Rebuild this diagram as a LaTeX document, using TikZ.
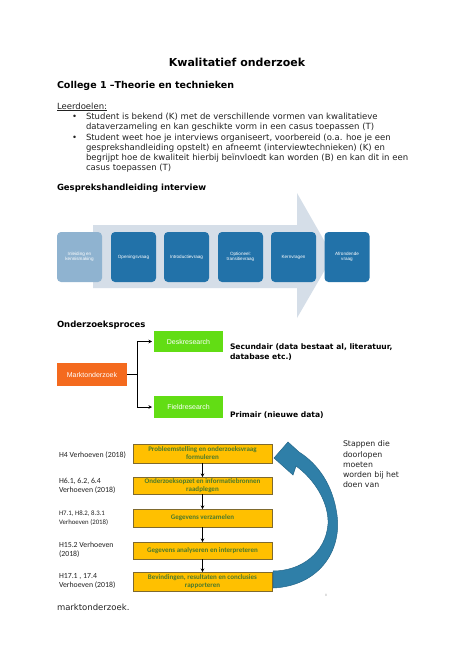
\documentclass[tikz,border=0pt]{standalone}
\usepackage{fontspec}
\setmainfont{DejaVu Sans}
\newfontfamily\calfont{Carlito}
\newfontfamily\arialfont{Liberation Sans}
\usetikzlibrary{arrows.meta}
\definecolor{chevgrey}{HTML}{D5DEE8}
\definecolor{lightblue}{HTML}{8FB3D0}
\definecolor{darkblue}{HTML}{2272A9}
\definecolor{greenbox}{HTML}{62DD14}
\definecolor{orangebox}{HTML}{F46A1E}
\definecolor{yellowbox}{HTML}{FFC000}
\definecolor{yellowedge}{HTML}{7F6A2E}
\definecolor{flowtext}{HTML}{4C7A2C}
\definecolor{curvefill}{HTML}{2F7FA8}
\definecolor{curveedge}{HTML}{25678A}
\definecolor{bodytext}{HTML}{222222}
\begin{document}
\begin{tikzpicture}[x=1pt,y=-1pt,
  every node/.style={inner sep=0pt, outer sep=0pt},
  body/.style={anchor=west, font=\fontsize{8.5}{10}\selectfont, text=bodytext},
  head/.style={anchor=west, font=\fontsize{8.5}{10}\selectfont\bfseries, text=black},
  cbox/.style={rounded corners=4pt, minimum width=45pt, minimum height=50pt, fill=darkblue, text=white, align=center, font=\arialfont\fontsize{4.6}{5.4}\selectfont},
  mbox/.style={minimum width=69pt, minimum height=21pt, fill=greenbox, text=white, font=\arialfont\fontsize{7}{8}\selectfont},
  fbox/.style={fill=yellowbox, draw=yellowedge, line width=0.8pt, minimum width=139pt, align=center, font=\calfont\fontsize{7}{8}\selectfont\bfseries, text=flowtext},
  flab/.style={anchor=west, align=left, font=\calfont\fontsize{7.8}{9.5}\selectfont, text=bodytext},
  conn/.style={-{Stealth[length=3.5pt,width=3.5pt]}, line width=0.7pt, black}
]
\path[use as bounding box, fill=white] (0,0) rectangle (474,670);

% headings and text
\node[font=\fontsize{11}{13}\selectfont\bfseries] (title) at (237,62) {Kwalitatief onderzoek};
\node[anchor=west, font=\fontsize{9.5}{11}\selectfont\bfseries] (college) at (57,86) {College 1 –Theorie en technieken};
\node[body] (leer) at (57,107) {\underline{Leerdoelen:}};
\node[body] (bul1) at (72,117) {•};
\node[body] (l1) at (86,117) {Student is bekend (K) met de verschillende vormen van kwalitatieve};
\node[body] (l2) at (86,127) {dataverzameling en kan geschikte vorm in een casus toepassen (T)};
\node[body] (bul2) at (72,138) {•};
\node[body] (l3) at (86,138) {Student weet hoe je interviews organiseert, voorbereid (o.a. hoe je een};
\node[body] (l4) at (86,148) {gesprekshandleiding opstelt) en afneemt (interviewtechnieken) (K) en};
\node[body] (l5) at (86,158) {begrijpt hoe de kwaliteit hierbij beïnvloedt kan worden (B) en kan dit in een};
\node[body] (l6) at (86,168) {casus toepassen (T)};
\node[head] (gesp) at (57,188) {Gesprekshandleiding interview};

% chevron graphic
\fill[chevgrey] (93,225) -- (297,225) -- (297,193) -- (333,256) -- (297,318) -- (297,288) -- (93,288) -- cycle;
\node[cbox, fill=lightblue] (c1) at (79.5,257) {Inleiding en\\kennismaking};
\node[cbox] (c2) at (133.5,257) {Openingsvraag};
\node[cbox] (c3) at (186.5,257) {Introductievraag};
\node[cbox] (c4) at (240.5,257) {Optioneel:\\transitievraag};
\node[cbox] (c5) at (293.5,257) {Kernvragen};
\node[cbox] (c6) at (347,257) {Afrondende\\vraag};

% onderzoeksproces
\node[head] (onder) at (57,325) {Onderzoeksproces};
\node[mbox, fill=orangebox, minimum width=70pt, minimum height=23pt] (markt) at (92,374.5) {Marktonderzoek};
\node[mbox] (desk) at (188.5,341.5) {Deskresearch};
\node[mbox, minimum height=22pt] (field) at (188.5,407) {Fieldresearch};
\draw[line width=0.7pt] (markt.east) -- ++(10,0) coordinate (j);
\draw[conn, shorten >=2pt] (j) |- (desk.west);
\draw[conn, shorten >=2pt] (j) |- (field.west);
\node[anchor=west, align=left, font=\fontsize{7.6}{10.5}\selectfont\bfseries] (sec) at (230,352) {Secundair (data bestaat al, literatuur,\\database etc.)};
\node[anchor=west, font=\fontsize{7.6}{10}\selectfont\bfseries] (prim) at (230,415) {Primair (nieuwe data)};

% flow chart
\node[fbox, minimum height=19pt] (f1) at (202.5,453.5) {Probleemstelling en onderzoeksvraag\\formuleren};
\node[fbox, minimum height=17pt] (f2) at (202.5,485.5) {Onderzoeksopzet en informatiebronnen\\raadplegen};
\node[fbox, minimum height=18pt] (f3) at (202.5,518) {Gegevens verzamelen};
\node[fbox, minimum height=17pt] (f4) at (202.5,550.5) {Gegevens analyseren en interpreteren};
\node[fbox, minimum height=19pt] (f5) at (202.5,581.5) {Bevindingen, resultaten en conclusies\\rapporteren};
\draw[conn, line width=0.6pt] (f1.south) -- (f2.north);
\draw[conn, line width=0.6pt] (f2.south) -- (f3.north);
\draw[conn, line width=0.6pt] (f3.south) -- (f4.north);
\draw[conn, line width=0.6pt] (f4.south) -- (f5.north);

\node[flab] (h1) at (59,455) {H4 Verhoeven (2018)};
\node[flab] (h2) at (59,486) {H6.1, 6.2, 6.4\\Verhoeven (2018)};
\node[flab, font=\calfont\fontsize{6.8}{8.5}\selectfont] (h3) at (59,518) {H7.1, H8.2, 8.3.1\\Verhoeven (2018)};
\node[flab] (h4) at (59,550) {H15.2 Verhoeven\\(2018)};
\node[flab] (h5) at (59,581) {H17.1 , 17.4\\Verhoeven (2018)};

% curved return arrow
\filldraw[fill=curvefill, draw=curveedge, line width=0.5pt]
  (273,588) .. controls (318,586) and (342,552) .. (337,515)
  .. controls (333,485) and (318,464) .. (299,452)
  -- (288,442) -- (274,458) -- (293,475) -- (296,466)
  .. controls (314,479) and (329,502) .. (328,524)
  .. controls (326,552) and (302,571) .. (273,571) -- cycle;

\node[anchor=north west, align=left, font=\fontsize{7.8}{10.2}\selectfont, text=bodytext] (stap) at (343,441) {Stappen die\\doorlopen\\moeten\\worden bij het\\doen van};
\node[font=\fontsize{3}{3}\selectfont, text=black!35] (pnum) at (326,595) {8};
\node[body] (markt2) at (57,607) {marktonderzoek.};
\end{tikzpicture}
\end{document}
